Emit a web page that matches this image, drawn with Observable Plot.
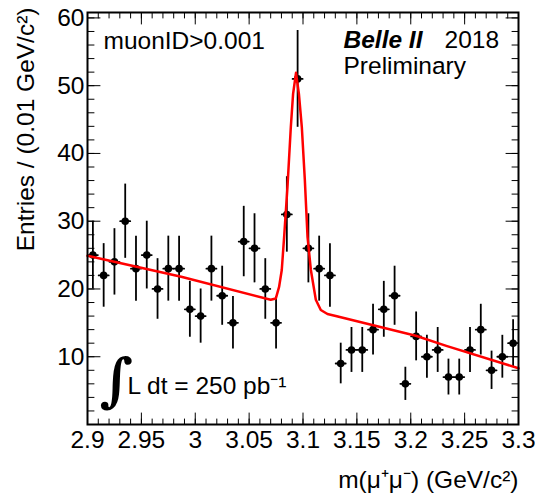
<!DOCTYPE html>
<html>
<head>
<meta charset="utf-8">
<script src="https://cdn.jsdelivr.net/npm/d3@7"></script>
<script src="https://cdn.jsdelivr.net/npm/@observablehq/plot@0.6"></script>
<style>
  html, body { margin: 0; padding: 0; background: #fff; }
  #chart svg { display: block; }
</style>
</head>
<body>
<div id="chart"></div>
<script>
// Dimuon invariant mass, 0.01 GeV/c^2 bins from 2.90 to 3.30
const binCenters = [
  2.905, 2.915, 2.925, 2.935, 2.945, 2.955, 2.965, 2.975, 2.985, 2.995,
  3.005, 3.015, 3.025, 3.035, 3.045, 3.055, 3.065, 3.075, 3.085, 3.095,
  3.105, 3.115, 3.125, 3.135, 3.145, 3.155, 3.165, 3.175, 3.185, 3.195,
  3.205, 3.215, 3.225, 3.235, 3.245, 3.255, 3.265, 3.275, 3.285, 3.295
];
const entries = [
  25, 22, 24, 30, 23, 25, 20, 23, 23, 17,
  16, 23, 19, 15, 27, 26, 20, 15, 31, 51,
  26, 23, 22, 9, 11, 11, 14, 17, 19, 6,
  13, 10, 11, 7, 7, 11, 14, 8, 10, 12
];

// Fitted J/psi peak on a linear background (sampled curve)
const fitMass = [
  2.900, 2.987, 3.070, 3.0748, 3.0778, 3.0803, 3.0825, 3.0856, 3.0887, 3.0908,
  3.0935, 3.0962, 3.0989, 3.1017, 3.1042, 3.1073, 3.1119, 3.1165, 3.1227, 3.1304,
  3.2047, 3.2330, 3.300
];
const fitEntries = [
  24.9, 21.8, 18.4, 18.6, 20.3, 22.8, 27.7, 35.1, 43.9, 48.8,
  51.9, 48.8, 43.9, 36.1, 27.7, 22.8, 18.4, 16.9, 16.3, 16.0,
  13.1, 11.6, 8.3
];

const xTickLabels = [2.9, 2.95, 3, 3.05, 3.1, 3.15, 3.2, 3.25, 3.3];
const yTickLabels = [10, 20, 30, 40, 50, 60];

const hist = binCenters.map((m, i) => ({m, n: entries[i], err: Math.sqrt(entries[i])}));
const fit = fitMass.map((m, i) => ({m, n: fitEntries[i]}));

const xMinor = d3.range(0, 41).map(i => +(2.9 + i * 0.01).toFixed(2));
const yMinor = d3.range(0, 31).map(i => i * 2);

// straight tick segment drawn along the vector direction
const tickShape = {draw(ctx, l) { ctx.moveTo(0, 0); ctx.lineTo(0, -l); }};
// short horizontal bar through each data point
const barShape = {draw(ctx, l) { ctx.moveTo(-l / 2, 0); ctx.lineTo(l / 2, 0); }};

function ticksX(values, len, anchor) {
  return Plot.vector(values, {
    x: d => d, frameAnchor: anchor, anchor: "start", shape: tickShape,
    length: len, rotate: anchor === "bottom" ? 0 : 180, stroke: "black", strokeWidth: 1
  });
}
function ticksY(values, len, anchor) {
  return Plot.vector(values, {
    y: d => d, frameAnchor: anchor, anchor: "start", shape: tickShape,
    length: len, rotate: anchor === "left" ? 90 : -90, stroke: "black", strokeWidth: 1
  });
}

const font = "'Liberation Sans', Arial, Helvetica, sans-serif";
const fs = 24.5;

const chart = Plot.plot({
  width: 535,
  height: 497,
  marginLeft: 87,
  marginRight: 17,
  marginTop: 12,
  marginBottom: 73,
  style: {fontFamily: font, fontSize: fs + "px", color: "black", background: "white"},
  x: {domain: [2.9, 3.3], label: null},
  y: {domain: [0, 60.8], label: null},
  marks: [
    // tick marks on all four sides, pointing inwards
    ticksX(xMinor, 5.5, "bottom"),
    ticksX(xTickLabels, 11.5, "bottom"),
    ticksX(xMinor, 5.5, "top"),
    ticksX(xTickLabels, 11.5, "top"),
    ticksY(yMinor, 6.5, "left"),
    ticksY(yTickLabels, 12.5, "left"),
    ticksY(yMinor, 6.5, "right"),
    ticksY(yTickLabels, 12.5, "right"),
    Plot.axisX(xTickLabels, {tickSize: 0, tickPadding: 6, tickFormat: d => String(d), fontSize: fs, label: null}),
    Plot.axisY(yTickLabels, {tickSize: 0, tickPadding: 3, tickFormat: d => String(d), fontSize: fs, label: null}),
    // error bars and markers
    Plot.ruleX(hist, {x: "m", y1: d => d.n - d.err, y2: d => d.n + d.err, stroke: "black", strokeWidth: 1.8}),
    Plot.vector(hist, {x: "m", y: "n", length: 10, anchor: "start", shape: barShape, stroke: "black", strokeWidth: 1.8}),
    Plot.dot(hist, {x: "m", y: "n", r: 3.8, fill: "black", stroke: "none"}),
    // fit
    Plot.line(fit, {x: "m", y: "n", stroke: "#ff0000", strokeWidth: 2.5}),
    Plot.frame({stroke: "black", strokeWidth: 2}),
    // annotations
    Plot.text(["muonID>0.001"], {text: d => d, frameAnchor: "top-left", dx: 16, dy: 36, textAnchor: "start", lineAnchor: "bottom", fontSize: fs}),
    Plot.text(["Belle II"], {text: d => d, frameAnchor: "top-left", dx: 256, dy: 35, textAnchor: "start", lineAnchor: "bottom", fontSize: fs, fontWeight: "bold", fontStyle: "italic"}),
    Plot.text(["2018"], {text: d => d, frameAnchor: "top-left", dx: 357, dy: 35, textAnchor: "start", lineAnchor: "bottom", fontSize: fs}),
    Plot.text(["Preliminary"], {text: d => d, frameAnchor: "top-left", dx: 256, dy: 61, textAnchor: "start", lineAnchor: "bottom", fontSize: fs}),
    Plot.text(["\u222B"], {text: d => d, frameAnchor: "bottom-left", dx: 12, dy: -25, textAnchor: "start", lineAnchor: "bottom", fontSize: 58, fontStyle: "italic", fontWeight: "bold", fontFamily: "'DejaVu Serif', 'Liberation Serif', serif", fill: "black"}),
    Plot.text(["L dt = 250 pb\u207B\u00B9"], {text: d => d, frameAnchor: "bottom-left", dx: 40, dy: -31, textAnchor: "start", lineAnchor: "bottom", fontSize: fs}),
    // axis titles
    Plot.text(["m(\u03BC\u207A\u03BC\u207B) (GeV/c\u00B2)"], {text: d => d, frameAnchor: "bottom-right", dy: 63, textAnchor: "end", lineAnchor: "bottom", fontSize: fs}),
    Plot.text(["Entries / (0.01 GeV/c\u00B2)"], {text: d => d, frameAnchor: "top-left", dx: -61, dy: -5, rotate: -90, textAnchor: "end", lineAnchor: "middle", fontSize: fs})
  ]
});

document.getElementById("chart").appendChild(chart);
</script>
</body>
</html>
